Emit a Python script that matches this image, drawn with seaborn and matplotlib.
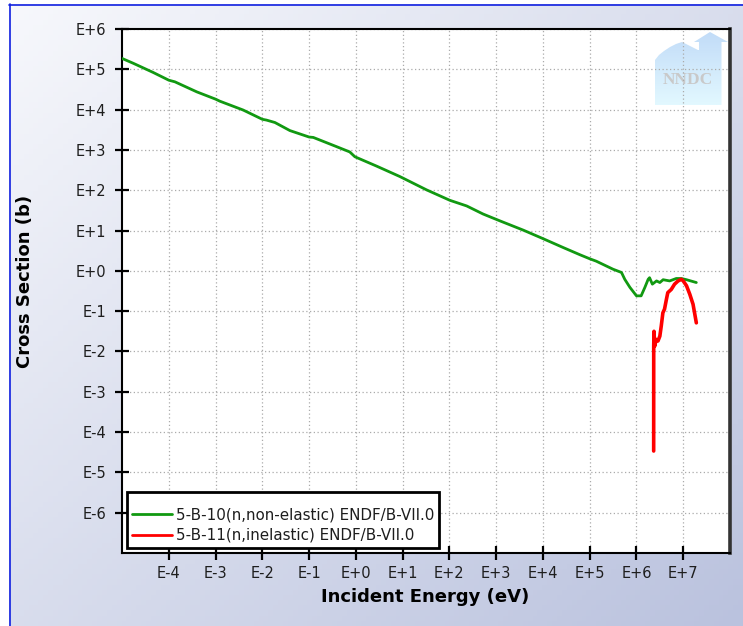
import numpy as np
import pandas as pd
import matplotlib
matplotlib.use("Agg")
import matplotlib.pyplot as plt
import seaborn as sns
from matplotlib.patches import Polygon
from matplotlib.lines import Line2D
from matplotlib.ticker import FixedLocator, FuncFormatter, NullLocator

# ---- cross-section data (log10 of energy in eV, log10 of cross section in barns)
b10_label = "5-B-10(n,non-elastic) ENDF/B-VII.0"
b10_log_energy = [-5.00, -4.76, -4.33, -4.00, -3.87, -3.40, -3.00, -2.91, -2.41,
                  -2.00, -1.91, -1.73, -1.41, -1.00, -0.91, -0.41, -0.13, -0.02,
                  0.30, 0.44, 0.94, 1.51, 2.01, 2.37, 2.72, 3.08, 3.58, 4.00,
                  4.43, 4.79, 5.00, 5.14, 5.50, 5.68, 5.75, 5.86, 6.00, 6.10,
                  6.18, 6.25, 6.28, 6.34, 6.43, 6.50, 6.57, 6.71, 6.85, 6.96,
                  7.07, 7.28]
b10_log_xs = [5.27, 5.15, 4.92, 4.73, 4.69, 4.44, 4.26, 4.21, 3.99,
              3.76, 3.74, 3.68, 3.48, 3.32, 3.31, 3.08, 2.95, 2.83,
              2.67, 2.60, 2.34, 2.01, 1.75, 1.61, 1.41, 1.24, 1.01, 0.80,
              0.58, 0.40, 0.30, 0.24, 0.04, -0.04, -0.21, -0.41, -0.62, -0.62,
              -0.41, -0.21, -0.17, -0.33, -0.25, -0.29, -0.22, -0.25, -0.19, -0.19,
              -0.22, -0.29]

b11_label = "5-B-11(n,inelastic) ENDF/B-VII.0"
b11_log_energy = [6.368, 6.369, 6.375, 6.39, 6.42, 6.46, 6.50, 6.53, 6.565,
                  6.60, 6.64, 6.67, 6.745, 6.815, 6.89, 6.96, 7.00, 7.07,
                  7.14, 7.21, 7.28]
b11_log_xs = [-4.47, -1.87, -1.50, -1.87, -1.70, -1.74, -1.62, -1.37, -1.04,
              -0.95, -0.71, -0.54, -0.46, -0.33, -0.25, -0.21, -0.25, -0.37,
              -0.58, -0.83, -1.29]

x_tick_exponents = list(range(-4, 8))
y_tick_exponents = list(range(-6, 7))

b10 = pd.DataFrame({"energy": 10.0 ** np.array(b10_log_energy),
                    "xs": 10.0 ** np.array(b10_log_xs)})
b11 = pd.DataFrame({"energy": 10.0 ** np.array(b11_log_energy),
                    "xs": 10.0 ** np.array(b11_log_xs)})

sns.set_theme(style="white")
plt.rcParams["font.family"] = ["DejaVu Sans"]

W, H = 743, 626
fig = plt.figure(figsize=(W / 100, H / 100), dpi=100)
fig.patch.set_facecolor("white")

# ---- panel background: diagonal light-lavender gradient with a blue frame edge
bg = fig.add_axes([9 / W, 0, 1 - 9 / W, 1 - 4 / H], zorder=-10)
bg.set_axis_off()
ny, nx = 120, 150
u = np.linspace(0, 1, nx)[None, :]
v = np.linspace(0, 1, ny)[:, None]
t = np.clip(0.5 * u + 0.5 * v, 0, 1)[..., None]
c0 = np.array([247, 248, 252]) / 255
c1 = np.array([186, 194, 222]) / 255
grad = c0 * (1 - t) + c1 * t
bg.imshow(grad, extent=[0, 1, 0, 1], aspect="auto", origin="upper")
fig.add_artist(Line2D([9.5 / W, 9.5 / W], [0, 1 - 4 / H], color="#1020e0", lw=1.2))
fig.add_artist(Line2D([9 / W, 1], [1 - 4.5 / H, 1 - 4.5 / H], color="#1020e0", lw=1.2))

# ---- main plot
ax = fig.add_axes([122 / W, 1 - 553 / H, 608 / W, 524 / H])
ax.set_facecolor("white")
ax.set_xscale("log")
ax.set_yscale("log")

sns.lineplot(data=b10, x="energy", y="xs", ax=ax, color="#119911", linewidth=2.0,
             estimator=None, sort=False, label=b10_label, zorder=3)
sns.lineplot(data=b11, x="energy", y="xs", ax=ax, color="#ff0000", linewidth=2.6,
             estimator=None, sort=False, label=b11_label, zorder=4)

ax.set_autoscale_on(False)
ax.set_xlim(1e-5, 1e8)
ax.set_ylim(1e-7, 1e6)

fmt = FuncFormatter(lambda val, pos: "E%+d" % int(round(np.log10(val))))
ax.xaxis.set_major_locator(FixedLocator([10.0 ** e for e in x_tick_exponents]))
ax.yaxis.set_major_locator(FixedLocator([10.0 ** e for e in y_tick_exponents]))
ax.xaxis.set_minor_locator(NullLocator())
ax.yaxis.set_minor_locator(NullLocator())
ax.xaxis.set_major_formatter(fmt)
ax.yaxis.set_major_formatter(fmt)
ax.tick_params(axis="both", which="major", direction="inout", length=9.4, width=1.6,
               color="black", labelsize=10.5, labelcolor="#1e1e1e",
               bottom=True, left=True, top=False, right=False)
ax.tick_params(axis="x", pad=5.0)
ax.tick_params(axis="y", pad=6.5)

ax.set_axisbelow(True)
ax.grid(True, which="major", linestyle=(0, (1, 2)), color="#ababab", linewidth=0.9)

for side in ("left", "bottom", "top"):
    ax.spines[side].set_color("black")
    ax.spines[side].set_linewidth(1.5)
ax.spines["right"].set_color("#333333")
ax.spines["right"].set_linewidth(2.6)

ax.set_xlabel("Incident Energy (eV)", fontsize=13, fontweight="bold", color="black")
ax.set_ylabel("Cross Section (b)", fontsize=13, fontweight="bold", color="black")
ax.xaxis.set_label_coords(0.498, -0.084)
ax.xaxis.label.set_va("center")
ax.yaxis.set_label_coords(-0.1595, 0.519)
ax.yaxis.label.set_va("center")

# ---- NNDC watermark (house with arrow), gradient fill under the grid
house = [(0.8766, 0.8550), (0.8766, 0.9408), (0.8832, 0.9504), (0.8914, 0.9580),
         (0.9013, 0.9656), (0.9112, 0.9714), (0.9211, 0.9752), (0.9342, 0.9676),
         (0.9474, 0.9599), (0.9490, 0.9599), (0.9490, 0.9752), (0.9408, 0.9752),
         (0.9671, 0.9943), (0.9967, 0.9752), (0.9860, 0.9752), (0.9860, 0.8550)]
poly = Polygon(house, closed=True, transform=ax.transAxes, facecolor="none",
               edgecolor="none")
ax.add_patch(poly)
hv = np.linspace(0, 1, 64)[:, None, None]
top_c = np.array([194, 220, 248]) / 255
bot_c = np.array([226, 248, 255]) / 255
wm = np.repeat(top_c * (1 - hv) + bot_c * hv, 2, axis=1)
img = ax.imshow(wm, extent=[0.8766, 0.9967, 0.8550, 0.9943], transform=ax.transAxes,
                aspect="auto", origin="upper", zorder=0.2, interpolation="bilinear")
img.set_clip_path(poly)
ax.text(0.9309, 0.9027, "NNDC", transform=ax.transAxes, ha="center", va="center",
        fontsize=12.5, fontweight="bold", family=["Liberation Serif", "DejaVu Serif"],
        color="#c9c9c9", zorder=0.3)
ax.set_xlim(1e-5, 1e8)
ax.set_ylim(1e-7, 1e6)

# ---- legend
leg = ax.legend(loc="lower left", frameon=True, fancybox=False, edgecolor="black",
                framealpha=1.0, facecolor="white", fontsize=10.9, handlelength=2.65,
                handletextpad=0.25, borderaxespad=0.35, borderpad=0.32,
                labelspacing=0.38, title=" ", title_fontsize=3.5)
leg.get_frame().set_linewidth(2.0)
for txt in leg.get_texts():
    txt.set_color("#1e1e1e")
for ln in leg.get_lines():
    ln.set_linewidth(2.0)

fig.savefig("out.png", dpi=100)
